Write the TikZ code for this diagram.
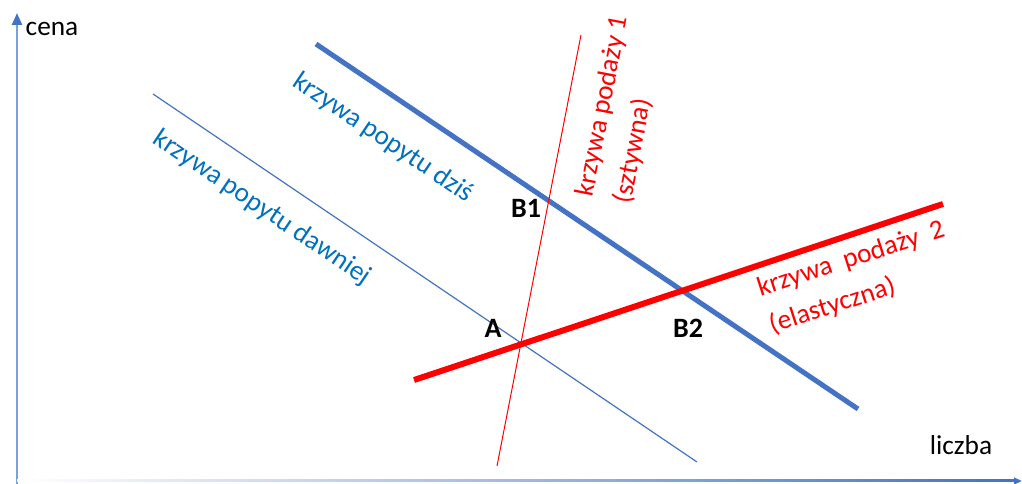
\documentclass[tikz,border=0pt]{standalone}
\usepackage{fontspec}
\setmainfont{Carlito}
\usepackage{xcolor}
\usetikzlibrary{arrows.meta, positioning, calc}

\definecolor{popyt}{HTML}{4472C4}
\definecolor{popyttxt}{HTML}{0070C0}
\definecolor{podaz}{HTML}{FF0000}
\definecolor{osie}{HTML}{7F9FDB}

\begin{document}
\begin{tikzpicture}[
    x=0.75pt,
    y=-0.75pt,
    font=\fontsize{20.5}{29}\selectfont,
    demandthick/.style={draw=popyt, line width=3.75pt},
    demandthin/.style={draw=popyt, line width=0.9pt},
    supplythick/.style={draw=podaz, line width=4.5pt},
    supplythin/.style={draw=podaz, line width=0.75pt},
    demandlabel/.style={text=popyttxt, rotate=-34, inner sep=0pt},
    supplylabel/.style={text=podaz, align=left, inner sep=0pt},
    pointlabel/.style={font=\fontsize{21}{23}\selectfont\bfseries, inner sep=0pt}
]
    \useasboundingbox (0,0) rectangle (1022,484);

    % --- Axes ---
    \coordinate (O) at (17,484);
    \coordinate (ytip) at (17,13);
    \coordinate (xleft) at (17,481);
    \coordinate (xtip) at (1022,481);
    \draw[osie, line width=1.8pt, -{Triangle[length=9pt, width=7.5pt, color=popyt]}] (O) -- (ytip);
    \shade[left color=white, right color=popyt] (17,480) rectangle (1014,482);
    \draw[popyt, line width=1.5pt, -{Triangle[length=6pt, width=5pt]}] ($(xtip)+(-10,0)$) -- (xtip);
    \node[inner sep=0pt] (cena) at (52,29) {cena};
    \node[inner sep=0pt] (liczba) at (961,445) {liczba};

    % --- Demand curves ---
    \coordinate (dzisA) at (316,44);
    \coordinate (dzisB) at (858,409);
    \coordinate (dawnA) at (153,94);
    \coordinate (dawnB) at (697,462);
    \draw[demandthin] (dawnA) -- (dawnB);
    \draw[demandthick] (dzisA) -- (dzisB);
    \node[demandlabel] (ldzis) at (383,138) {krzywa popytu dziś};
    \node[demandlabel] (ldawn) at (262,208) {krzywa popytu dawniej};

    % --- Supply curves ---
    \coordinate (sztA) at (581,35);
    \coordinate (sztB) at (497,466);
    \coordinate (elaA) at (414,380);
    \coordinate (elaB) at (943,204);
    \draw[supplythin] (sztA) -- (sztB);
    \draw[supplythick] (elaA) -- (elaB);
    \node[supplylabel, rotate=79] (lszt) at (622,110) {krzywa podaży 1\\(sztywna)};
    \node[supplylabel, rotate=18] (lela) at (857,278) {krzywa\ \ podaży\ \ 2\\(elastyczna)};

    % --- Equilibria ---
    \node[pointlabel] (A) at (493,328) {A};
    \node[pointlabel] (B1) at (526,208) {B1};
    \node[pointlabel] (B2) at (688,328) {B2};
\end{tikzpicture}
\end{document}
